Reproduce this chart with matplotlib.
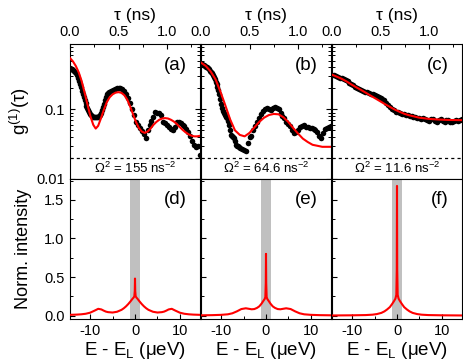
import matplotlib
matplotlib.use("Agg")
import matplotlib.pyplot as plt
from matplotlib.ticker import MultipleLocator, LogLocator, NullFormatter, FixedLocator

plt.rcParams['font.family'] = ['Liberation Sans', 'DejaVu Sans']
plt.rcParams['mathtext.fontset'] = 'custom'
plt.rcParams['mathtext.rm'] = 'Liberation Sans'
plt.rcParams['mathtext.it'] = 'Liberation Sans:italic'
plt.rcParams['axes.unicode_minus'] = False

# --- g1(tau) data, panels (a)-(c) ---
tau_a = [0.00, 0.01, 0.02, 0.03, 0.04, 0.05, 0.06, 0.07, 0.08, 0.09, 0.10, 0.11, 0.12, 0.13,
         0.14, 0.15, 0.16, 0.17, 0.18, 0.19, 0.20, 0.21, 0.22, 0.23, 0.24, 0.25, 0.26, 0.27,
         0.28, 0.29, 0.30, 0.31, 0.32, 0.33, 0.34, 0.35, 0.36, 0.37, 0.38, 0.39, 0.40, 0.42,
         0.44, 0.46, 0.48, 0.50, 0.52, 0.54, 0.56, 0.58, 0.60, 0.62, 0.64, 0.66, 0.68, 0.70,
         0.72, 0.74, 0.76, 0.78, 0.80, 0.82, 0.84, 0.86, 0.88, 0.90, 0.92, 0.94, 0.96, 0.98,
         1.00, 1.02, 1.04, 1.06, 1.08, 1.10, 1.12, 1.14, 1.16, 1.18, 1.20, 1.22, 1.24, 1.26,
         1.28, 1.30, 1.32, 1.34]
g_a = [0.39, 0.385, 0.375, 0.365, 0.355, 0.35, 0.33, 0.31, 0.28, 0.26, 0.235, 0.21, 0.185, 0.165,
       0.15, 0.135, 0.125, 0.113, 0.105, 0.098, 0.092, 0.087, 0.083, 0.08, 0.078, 0.077, 0.078, 0.077,
       0.079, 0.078, 0.08, 0.083, 0.088, 0.097, 0.108, 0.12, 0.135, 0.152, 0.165, 0.172, 0.175, 0.182,
       0.19, 0.196, 0.2, 0.202, 0.2, 0.195, 0.185, 0.168, 0.148, 0.123, 0.1, 0.082, 0.067, 0.06,
       0.054, 0.049, 0.044, 0.039, 0.05, 0.06, 0.068, 0.078, 0.092, 0.09, 0.088, 0.084, 0.066, 0.064,
       0.06, 0.056, 0.053, 0.051, 0.055, 0.067, 0.066, 0.064, 0.06, 0.057, 0.052, 0.048, 0.042, 0.035,
       0.031, 0.029, 0.03, 0.022]
fit_tau_a = [0.00, 0.03, 0.06, 0.09, 0.12, 0.15, 0.18, 0.21, 0.24, 0.265, 0.29, 0.32, 0.35, 0.38,
             0.41, 0.44, 0.47, 0.50, 0.53, 0.56, 0.59, 0.62, 0.65, 0.68, 0.71, 0.74, 0.77, 0.80,
             0.83, 0.86, 0.89, 0.92, 0.95, 0.98, 1.01, 1.04, 1.07, 1.10, 1.13, 1.16, 1.19, 1.22,
             1.25, 1.28, 1.31, 1.35]
fit_a = [0.545, 0.49, 0.42, 0.34, 0.255, 0.175, 0.118, 0.08, 0.06, 0.053, 0.058, 0.075, 0.1, 0.128,
         0.15, 0.165, 0.174, 0.177, 0.173, 0.16, 0.138, 0.11, 0.085, 0.066, 0.054, 0.048, 0.046, 0.048,
         0.053, 0.06, 0.066, 0.071, 0.074, 0.075, 0.074, 0.071, 0.067, 0.062, 0.056, 0.051, 0.047, 0.044,
         0.042, 0.041, 0.041, 0.042]

tau_b = [0.00, 0.01, 0.02, 0.03, 0.04, 0.05, 0.06, 0.07, 0.08, 0.09, 0.10, 0.11, 0.12, 0.13,
         0.14, 0.15, 0.16, 0.17, 0.18, 0.19, 0.20, 0.21, 0.22, 0.23, 0.24, 0.25, 0.26, 0.27,
         0.28, 0.29, 0.30, 0.31, 0.32, 0.33, 0.34, 0.35, 0.36, 0.37, 0.38, 0.39, 0.40, 0.42,
         0.44, 0.46, 0.48, 0.50, 0.52, 0.54, 0.56, 0.58, 0.60, 0.62, 0.64, 0.66, 0.68, 0.70,
         0.72, 0.74, 0.76, 0.78, 0.80, 0.82, 0.84, 0.86, 0.88, 0.90, 0.92, 0.94, 0.96, 0.98,
         1.00, 1.02, 1.04, 1.06, 1.08, 1.10, 1.12, 1.14, 1.16, 1.18, 1.20, 1.22, 1.24, 1.26,
         1.28, 1.30, 1.32, 1.34]
g_b = [0.45, 0.445, 0.44, 0.43, 0.42, 0.41, 0.4, 0.39, 0.375, 0.36, 0.35, 0.33, 0.31, 0.29,
       0.27, 0.25, 0.23, 0.21, 0.19, 0.165, 0.14, 0.118, 0.105, 0.095, 0.088, 0.082, 0.078, 0.075,
       0.068, 0.06, 0.05, 0.043, 0.041, 0.04, 0.039, 0.035, 0.031, 0.03, 0.03, 0.029, 0.028, 0.027,
       0.026, 0.025, 0.033, 0.04, 0.042, 0.05, 0.058, 0.066, 0.075, 0.085, 0.094, 0.1, 0.104, 0.1,
       0.099, 0.106, 0.11, 0.106, 0.1, 0.09, 0.08, 0.075, 0.066, 0.062, 0.057, 0.05, 0.046, 0.047,
       0.05, 0.056, 0.058, 0.059, 0.056, 0.055, 0.054, 0.054, 0.053, 0.05, 0.047, 0.042, 0.039, 0.046,
       0.052, 0.054, 0.055, 0.057]
fit_tau_b = [0.00, 0.05, 0.10, 0.15, 0.20, 0.25, 0.30, 0.35, 0.40, 0.45, 0.50, 0.55, 0.60, 0.65,
             0.70, 0.75, 0.80, 0.85, 0.90, 0.95, 1.00, 1.05, 1.10, 1.15, 1.20, 1.25, 1.30, 1.35]
fit_b = [0.47, 0.42, 0.35, 0.27, 0.18, 0.115, 0.072, 0.05, 0.043, 0.041, 0.046, 0.055, 0.066, 0.076,
         0.083, 0.086, 0.085, 0.077, 0.066, 0.054, 0.045, 0.038, 0.034, 0.031, 0.030, 0.029, 0.029, 0.029]

tau_c = [0.00, 0.02, 0.04, 0.06, 0.08, 0.10, 0.12, 0.14, 0.16, 0.18, 0.20, 0.22, 0.24, 0.26,
         0.28, 0.30, 0.32, 0.34, 0.36, 0.38, 0.40, 0.42, 0.44, 0.46, 0.48, 0.50, 0.52, 0.54,
         0.56, 0.58, 0.60, 0.62, 0.64, 0.66, 0.68, 0.70, 0.72, 0.74, 0.76, 0.78, 0.80, 0.82,
         0.84, 0.86, 0.88, 0.90, 0.92, 0.94, 0.96, 0.98, 1.00, 1.02, 1.04, 1.06, 1.08, 1.10,
         1.12, 1.14, 1.16, 1.18, 1.20, 1.22, 1.24, 1.26, 1.28, 1.30, 1.32, 1.34]
g_c = [0.31, 0.31, 0.30, 0.295, 0.285, 0.28, 0.27, 0.262, 0.255, 0.24, 0.232, 0.222, 0.212, 0.205,
       0.198, 0.19, 0.185, 0.18, 0.175, 0.17, 0.168, 0.165, 0.16, 0.157, 0.152, 0.148, 0.142, 0.135,
       0.125, 0.117, 0.108, 0.102, 0.097, 0.093, 0.091, 0.09, 0.087, 0.086, 0.083, 0.082, 0.08, 0.081,
       0.079, 0.077, 0.076, 0.074, 0.073, 0.075, 0.072, 0.07, 0.068, 0.072, 0.073, 0.069, 0.067, 0.071,
       0.072, 0.068, 0.066, 0.07, 0.071, 0.067, 0.066, 0.069, 0.07, 0.068, 0.071, 0.072]
fit_tau_c = [0.00, 0.05, 0.10, 0.15, 0.20, 0.25, 0.30, 0.35, 0.40, 0.45, 0.50, 0.55, 0.60, 0.65,
             0.70, 0.75, 0.80, 0.85, 0.90, 0.95, 1.00, 1.10, 1.20, 1.35]
fit_c = [0.315, 0.295, 0.275, 0.252, 0.228, 0.208, 0.19, 0.173, 0.157, 0.143, 0.13, 0.118, 0.108, 0.099,
         0.092, 0.086, 0.082, 0.079, 0.076, 0.0745, 0.073, 0.0715, 0.0705, 0.070]

omega_labels = ['155', '64.6', '11.6']
top_letters = ['(a)', '(b)', '(c)']

# --- spectra, panels (d)-(f) ---
E_d = [-14.5, -13, -12, -11, -10, -9, -8.2, -7.5, -7, -6.5, -6, -5, -4, -3, -2.5, -2, -1.5, -1,
       -0.6, -0.3, -0.15, -0.05, 0, 0.05, 0.15, 0.3, 0.6, 1, 1.5, 2, 2.5, 3, 4, 5, 6, 6.5, 7, 7.5,
       8.2, 9, 10, 11, 12, 13, 14.5]
I_d = [0.01, 0.013, 0.017, 0.024, 0.038, 0.065, 0.088, 0.08, 0.065, 0.052, 0.045, 0.04, 0.05, 0.075,
       0.095, 0.12, 0.15, 0.185, 0.215, 0.235, 0.25, 0.32, 0.48, 0.32, 0.25, 0.235, 0.215, 0.185, 0.15,
       0.12, 0.095, 0.075, 0.05, 0.04, 0.045, 0.052, 0.065, 0.08, 0.088, 0.065, 0.038, 0.024, 0.017,
       0.013, 0.01]
E_e = [-14.5, -12, -10, -8.5, -7.5, -6.5, -5.5, -4.5, -3.8, -3.2, -2.6, -2, -1.5, -1, -0.6, -0.3,
       -0.15, -0.05, 0, 0.05, 0.15, 0.3, 0.6, 1, 1.5, 2, 2.6, 3.2, 3.8, 4.5, 5.5, 6.5, 7.5, 8.5, 10,
       12, 14.5]
I_e = [0.004, 0.006, 0.01, 0.017, 0.03, 0.055, 0.085, 0.095, 0.088, 0.082, 0.085, 0.1, 0.12, 0.155,
       0.19, 0.215, 0.24, 0.42, 0.8, 0.42, 0.24, 0.215, 0.19, 0.155, 0.12, 0.1, 0.085, 0.082, 0.088,
       0.095, 0.085, 0.055, 0.03, 0.017, 0.01, 0.006, 0.004]
E_f = [-14.5, -10, -7, -5.5, -4.5, -3.5, -2.8, -2.2, -1.6, -1.1, -0.7, -0.35, -0.15, -0.05, 0,
       0.05, 0.15, 0.35, 0.7, 1.1, 1.6, 2.2, 2.8, 3.5, 4.5, 5.5, 7, 10, 14.5]
I_f = [0.002, 0.004, 0.007, 0.012, 0.02, 0.035, 0.055, 0.08, 0.11, 0.15, 0.185, 0.22, 0.27, 0.6, 1.68,
       0.6, 0.27, 0.22, 0.185, 0.15, 0.11, 0.08, 0.055, 0.035, 0.02, 0.012, 0.007, 0.004, 0.002]
bottom_letters = ['(d)', '(e)', '(f)']
laser_band = (-1.1, 1.1)

W, H = 464, 364
fig = plt.figure(figsize=(W / 100, H / 100), dpi=100)

lefts = [70, 201, 332]
pw = 130
top_axes, bot_axes = [], []
for i, x0 in enumerate(lefts):
    top_axes.append(fig.add_axes([x0 / W, (H - 179) / H, pw / W, 135 / H]))
    bot_axes.append(fig.add_axes([x0 / W, (H - 318.7) / H, pw / W, 139.7 / H]))

tops = [(tau_a, g_a, fit_tau_a, fit_a), (tau_b, g_b, fit_tau_b, fit_b), (tau_c, g_c, fit_tau_c, fit_c)]
for i, ax in enumerate(top_axes):
    t, g, ft, fg = tops[i]
    ax.set_yscale('log')
    ax.plot(t, g, 'o', color='black', ms=4, mec='none', zorder=2)
    ax.plot(ft, fg, color='red', lw=1.5, zorder=3)
    ax.axhline(0.02, color='black', ls=(0, (2.5, 2.5)), lw=0.9)
    ax.set_xlim(0, 1.34)
    ax.set_ylim(0.01, 0.87)
    ax.xaxis.tick_top()
    ax.xaxis.set_label_position('top')
    ax.xaxis.set_major_locator(FixedLocator([0.0, 0.5, 1.0]))
    ax.xaxis.set_minor_locator(MultipleLocator(0.25))
    ax.set_xticklabels(['0.0', '0.5', '1.0'])
    ax.set_xlabel('τ (ns)', fontsize=12.5, labelpad=4)
    ax.yaxis.set_major_locator(FixedLocator([0.01, 0.1]))
    ax.yaxis.set_minor_locator(LogLocator(base=10, subs=range(2, 10)))
    ax.yaxis.set_minor_formatter(NullFormatter())
    ax.tick_params(which='both', direction='in', top=True, bottom=False, left=True,
                   right=(i < 2), labelsize=10.5, pad=3.5)
    ax.tick_params(which='major', length=3.5, width=0.8)
    ax.tick_params(which='minor', length=2, width=0.7)
    if i == 0:
        ax.set_yticklabels(['0.01', '0.1'])
        ax.set_ylabel('g$^{(1)}$(τ)', fontsize=13.5)
        ax.yaxis.set_label_coords(-0.29, 0.5)
    else:
        ax.tick_params(labelleft=False)
    ax.text(0.9, 0.84, top_letters[i], transform=ax.transAxes, ha='right', va='center', fontsize=13.5)
    ax.text(0.5, 0.02, 'Ω$^2$ = ' + omega_labels[i] + ' ns$^{-2}$', transform=ax.transAxes,
            ha='center', va='bottom', fontsize=9.5)

bots = [(E_d, I_d), (E_e, I_e), (E_f, I_f)]
for i, ax in enumerate(bot_axes):
    E, I = bots[i]
    ax.axvspan(laser_band[0], laser_band[1], color='#c0c0c0', lw=0, zorder=1)
    ax.plot(E, I, color='red', lw=1.5, zorder=3)
    ax.set_xlim(-14.5, 14.5)
    ax.set_ylim(-0.04, 1.77)
    ax.xaxis.set_major_locator(FixedLocator([-10, 0, 10]))
    ax.xaxis.set_minor_locator(MultipleLocator(5))
    ax.yaxis.set_major_locator(MultipleLocator(0.5))
    ax.yaxis.set_minor_locator(MultipleLocator(0.25))
    ax.tick_params(which='both', direction='in', top=False, bottom=True, left=True, right=False,
                   labelsize=10.5, pad=4)
    ax.tick_params(which='major', length=3.5, width=0.8)
    ax.tick_params(which='minor', length=2, width=0.7)
    ax.set_xlabel('E - E$_\\mathregular{L}$ (μeV)', fontsize=13.5, labelpad=1)
    if i == 0:
        ax.set_ylabel('Norm. intensity', fontsize=13)
        ax.yaxis.set_label_coords(-0.29, 0.5)
    else:
        ax.tick_params(labelleft=False)
    ax.text(0.9, 0.85, bottom_letters[i], transform=ax.transAxes, ha='right', va='center', fontsize=13.5)

fig.savefig('out.png', dpi=100)
